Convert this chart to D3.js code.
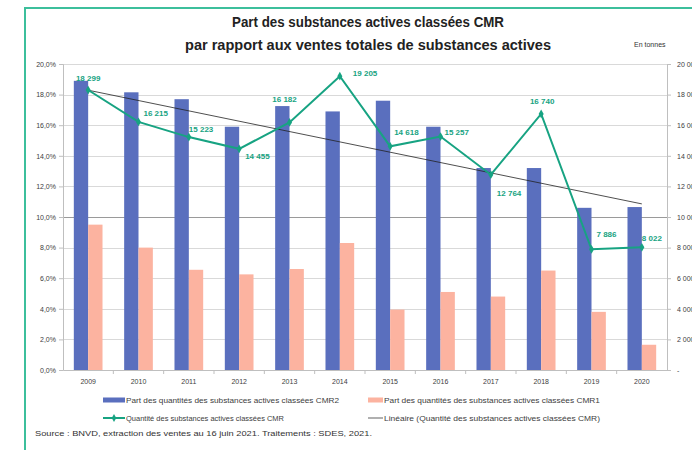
<!DOCTYPE html>
<meta charset="utf-8">
<style>
  body { margin: 0; background: #fff; }
  svg { display: block; font-family: "Liberation Sans", Arial, sans-serif; }
</style>
<svg></svg>
<script src="https://cdn.jsdelivr.net/npm/d3@7/dist/d3.min.js"></script>
<script>

var years = ["2009", "2010", "2011", "2012", "2013", "2014", "2015", "2016", "2017", "2018", "2019", "2020"];
var cmr2Share = [18.9, 18.15, 17.7, 15.9, 17.25, 16.9, 17.6, 15.9, 13.2, 13.2, 10.6, 10.65];
var cmr1Share = [9.5, 8.0, 6.55, 6.25, 6.6, 8.3, 3.95, 5.1, 4.8, 6.5, 3.8, 1.65];
var cmrTonnes = [18299, 16215, 15223, 14455, 16182, 19205, 14618, 15257, 12764, 16740, 7886, 8022];
var leftTicks = [0, 2, 4, 6, 8, 10, 12, 14, 16, 18, 20];
var rightTicks = [0, 2000, 4000, 6000, 8000, 10000, 12000, 14000, 16000, 18000, 20000];
var legendLabels = [
  "Part des quantités des substances actives classées CMR2",
  "Part des quantités des substances actives classées CMR1",
  "Quantité des substances actives classées CMR",
  "Linéaire (Quantité des substances actives classées CMR)"
];

// where each value label sits around its point (dx, dy, anchor)
var labelPos = [
  [0, -12, "middle"], [5, -8, "start"], [0, -8, "start"], [6, 8, "start"],
  [-5, -23, "middle"], [13, -3, "start"], [4, -14, "start"], [4, -4, "start"],
  [6, 19, "start"], [1, -12, "middle"], [5, -15, "start"], [0, -9, "start"]
];

var blue = "#5a6fbe", pink = "#fcb3a0", green = "#17a382", frame = "#3cbf9c";

var width = 692, height = 450,
    svg = d3.select("svg").attr("width", width).attr("height", height);

var fr = d3.formatLocale({decimal: ",", thousands: " ", grouping: [3], currency: ["", " €"]});
var fmtPct = d => fr.format(".1f")(d) + "%",
    fmtT = d => d === 0 ? "-" : fr.format(",")(d);

var mLeft = 63, mRight = 667, mTop = 64, mBottom = 370;

var x = d3.scaleBand().domain(years).range([mLeft, mRight]).paddingInner(0.43).paddingOuter(0.215);
var x1 = d3.scaleBand().domain([0, 1]).range([0, x.bandwidth()]);
var y = d3.scaleLinear().domain([0, 20]).range([mBottom, mTop]);
var y2 = d3.scaleLinear().domain([0, 20000]).range([mBottom, mTop]);

// frame
svg.append("path")
    .attr("d", "M25," + height + "V8H" + width)
    .attr("fill", "none").attr("stroke", frame).attr("stroke-width", 2);

// titles
svg.append("text").attr("x", 368).attr("y", 27).attr("text-anchor", "middle")
    .attr("font-size", 14).attr("font-weight", "bold").attr("fill", "#222")
    .attr("textLength", 272).attr("lengthAdjust", "spacingAndGlyphs")
    .text("Part des substances actives classées CMR");
svg.append("text").attr("x", 368).attr("y", 50).attr("text-anchor", "middle")
    .attr("font-size", 14).attr("font-weight", "bold").attr("fill", "#222")
    .attr("textLength", 366).attr("lengthAdjust", "spacingAndGlyphs")
    .text("par rapport aux ventes totales de substances actives");
svg.append("text").attr("x", 634).attr("y", 47).attr("font-size", 7).attr("fill", "#333")
    .text("En tonnes");

// gridlines
svg.append("g").selectAll("line").data(leftTicks.slice(1)).join("line")
    .attr("x1", mLeft).attr("x2", mRight)
    .attr("y1", d => Math.round(y(d)) + 0.5).attr("y2", d => Math.round(y(d)) + 0.5)
    .attr("stroke", d => d === 10 ? "#9a9a9a" : "#d9d9d9").attr("stroke-width", 1);

// axes
var gl = svg.append("g").attr("transform", "translate(" + mLeft + ",0)")
    .call(d3.axisLeft(y).tickValues(leftTicks).tickFormat(fmtPct).tickSize(4).tickPadding(3));
var gr = svg.append("g").attr("transform", "translate(" + mRight + ",0)")
    .call(d3.axisRight(y2).tickValues(rightTicks).tickFormat(fmtT).tickSize(4).tickPadding(6));
var gb = svg.append("g").attr("transform", "translate(0," + mBottom + ")")
    .call(d3.axisBottom(x).tickSize(0).tickPadding(9));
gb.append("g").selectAll("line").data(years.slice(1)).join("line")
    .attr("x1", d => x(d) - x.step() * 0.215).attr("x2", d => x(d) - x.step() * 0.215)
    .attr("y1", 0).attr("y2", 4).attr("stroke", "#bfbfbf");

[gl, gr, gb].forEach(g => {
  g.selectAll(".domain").attr("stroke", "#bfbfbf");
  g.selectAll(".tick line").attr("stroke", "#bfbfbf");
  g.selectAll("text").attr("font-size", 7).attr("fill", "#404040").attr("font-family", "Liberation Sans, Arial, sans-serif");
});

// bars
var groups = svg.append("g").selectAll("g").data(years).join("g")
    .attr("transform", d => "translate(" + x(d) + ",0)");
groups.append("rect")
    .attr("x", x1(0)).attr("width", x1.bandwidth())
    .attr("y", (d, i) => y(cmr2Share[i])).attr("height", (d, i) => mBottom - y(cmr2Share[i]))
    .attr("fill", blue);
groups.append("rect")
    .attr("x", x1(1)).attr("width", x1.bandwidth())
    .attr("y", (d, i) => y(cmr1Share[i])).attr("height", (d, i) => mBottom - y(cmr1Share[i]))
    .attr("fill", pink);

// trend line (least squares, as the spreadsheet does)
var n = cmrTonnes.length,
    mx = d3.mean(cmrTonnes, (d, i) => i),
    my = d3.mean(cmrTonnes),
    slope = d3.sum(cmrTonnes, (d, i) => (i - mx) * (d - my)) / d3.sum(cmrTonnes, (d, i) => (i - mx) * (i - mx)),
    icpt = my - slope * mx;
var cx = d => x(d) + x.bandwidth() / 2;

svg.append("line")
    .attr("x1", cx(years[0])).attr("y1", y2(icpt))
    .attr("x2", cx(years[n - 1])).attr("y2", y2(icpt + slope * (n - 1)))
    .attr("stroke", "#222").attr("stroke-width", 0.8);

// quantity line
var line = d3.line().x((d, i) => cx(years[i])).y(d => y2(d));
svg.append("path").datum(cmrTonnes).attr("d", line)
    .attr("fill", "none").attr("stroke", green).attr("stroke-width", 2);
svg.append("g").selectAll("path").data(cmrTonnes).join("path")
    .attr("d", d3.symbol(d3.symbolDiamond, 22))
    .attr("transform", (d, i) => "translate(" + cx(years[i]) + "," + y2(d) + ")")
    .attr("fill", green);
svg.append("g").selectAll("text").data(cmrTonnes).join("text")
    .attr("x", (d, i) => cx(years[i]) + labelPos[i][0])
    .attr("y", (d, i) => y2(d) + labelPos[i][1])
    .attr("text-anchor", (d, i) => labelPos[i][2])
    .attr("dominant-baseline", "central")
    .attr("font-size", 8).attr("font-weight", "bold").attr("fill", green)
    .text(fmtT);

// legend
var leg = [
  {x: 103, y: 400, type: "bar", color: blue, len: 213},
  {x: 368, y: 400, type: "bar", color: pink, len: 216},
  {x: 103, y: 418, type: "marker", color: green, len: 158},
  {x: 368, y: 418, type: "line", color: "#b0b0b0", len: 216}
];
var lg = svg.append("g").selectAll("g").data(leg).join("g")
    .attr("transform", d => "translate(" + d.x + "," + d.y + ")");
lg.filter(d => d.type === "bar").append("rect")
    .attr("x", 0).attr("y", -2.5).attr("width", d => d.x < 200 ? 22 : 15).attr("height", 5).attr("fill", d => d.color);
lg.filter(d => d.type !== "bar").append("line")
    .attr("x1", 0).attr("x2", d => d.x < 200 ? 22 : 15).attr("stroke", d => d.color).attr("stroke-width", 2);
lg.filter(d => d.type === "marker").append("path")
    .attr("d", d3.symbol(d3.symbolDiamond, 18)).attr("transform", "translate(11,0)").attr("fill", d => d.color);
lg.append("text")
    .attr("x", d => d.x < 200 ? 23 : 16).attr("dominant-baseline", "central")
    .attr("font-size", 7.5).attr("fill", "#404040")
    .attr("textLength", d => d.len).attr("lengthAdjust", "spacingAndGlyphs")
    .text((d, i) => legendLabels[i]);

svg.append("text").attr("x", 35).attr("y", 436).attr("font-size", 7.5).attr("fill", "#333")
    .attr("textLength", 337).attr("lengthAdjust", "spacingAndGlyphs")
    .text("Source : BNVD, extraction des ventes au 16 juin 2021. Traitements : SDES, 2021.");

</script>
